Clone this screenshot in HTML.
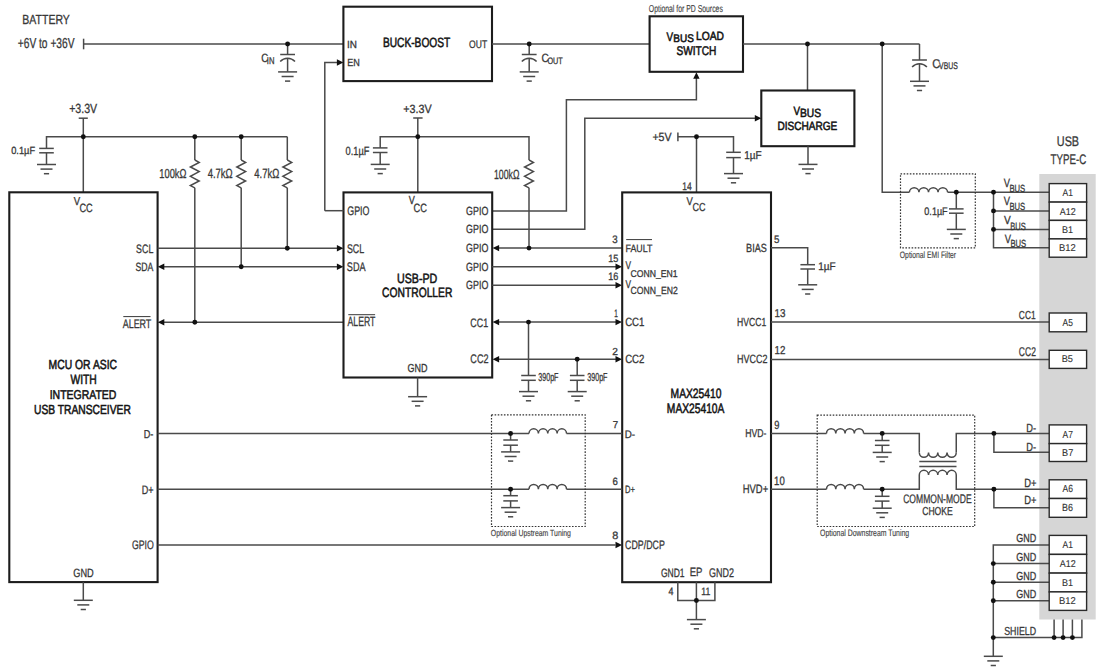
<!DOCTYPE html>
<html><head><meta charset="utf-8"><style>
html,body{margin:0;padding:0;background:#fff;width:1100px;height:672px;overflow:hidden}
svg{display:block;font-family:"Liberation Sans",sans-serif;text-rendering:geometricPrecision}
</style></head><body>
<svg width="1100" height="672" viewBox="0 0 1100 672">
<rect width="1100" height="672" fill="#fff"/>
<rect x="1039.3" y="174" width="56.4" height="445.5" fill="#d6d6d6"/>
<text transform="translate(22.3,24.14) scale(0.7972,1)" font-size="13.19" stroke="#383838" stroke-width="0.3" fill="#383838">BATTERY</text>
<text transform="translate(17.73,48.38) scale(0.7090,1)" font-size="14.41" stroke="#383838" stroke-width="0.3" fill="#383838">+6V to +36V</text>
<polyline points="83.6,38.7 83.6,49.3" fill="none" stroke="#4a4a4a" stroke-width="1.5"/>
<polyline points="83.6,44 343.4,44" fill="none" stroke="#4a4a4a" stroke-width="1.5"/>
<polyline points="287.6,44 287.6,54.5" fill="none" stroke="#4a4a4a" stroke-width="1.5"/>
<polyline points="280.2,54.5 295,54.5" fill="none" stroke="#4a4a4a" stroke-width="1.5"/>
<path d="M280.2,61.6 A10,10 0 0 1 295,61.6" fill="none" stroke="#4a4a4a" stroke-width="1.5"/>
<polyline points="287.6,58.3 287.6,71.8" fill="none" stroke="#4a4a4a" stroke-width="1.5"/>
<polyline points="278.1,71.9 297.1,71.9" fill="none" stroke="#4a4a4a" stroke-width="1.5"/>
<polyline points="281.6,76.5 293.6,76.5" fill="none" stroke="#4a4a4a" stroke-width="1.5"/>
<polyline points="285,81.1 290.2,81.1" fill="none" stroke="#4a4a4a" stroke-width="1.5"/>
<text transform="translate(261.13,62.38) scale(0.8105,1)" font-size="11.91" stroke="#383838" stroke-width="0.3" fill="#383838">C</text>
<text transform="translate(266.87,64.08) scale(0.7739,1)" font-size="9.89" stroke="#383838" stroke-width="0.3" fill="#383838">IN</text>
<rect x="343.4" y="6.7" width="148.6" height="74.4" fill="none" stroke="#1c1c1c" stroke-width="2.1"/>
<text transform="translate(347.06,47.85) scale(0.9534,1)" font-size="10.43" stroke="#383838" stroke-width="0.3" fill="#383838">IN</text>
<text transform="translate(347.21,65.7) scale(0.8752,1)" font-size="10.36" stroke="#383838" stroke-width="0.3" fill="#383838">EN</text>
<text transform="translate(382.91,47.49) scale(0.7605,1)" font-size="13.40" stroke="#141414" stroke-width="0.55" fill="#141414">BUCK-BOOST</text>
<text transform="translate(469.11,47.99) scale(0.7838,1)" font-size="10.92" stroke="#383838" stroke-width="0.3" fill="#383838">OUT</text>
<polyline points="492,44 649.6,44" fill="none" stroke="#4a4a4a" stroke-width="1.5"/>
<polyline points="529.2,44 529.2,54.5" fill="none" stroke="#4a4a4a" stroke-width="1.5"/>
<polyline points="521.8,54.5 536.6,54.5" fill="none" stroke="#4a4a4a" stroke-width="1.5"/>
<path d="M521.8,61.6 A10,10 0 0 1 536.6,61.6" fill="none" stroke="#4a4a4a" stroke-width="1.5"/>
<polyline points="529.2,58.3 529.2,71.8" fill="none" stroke="#4a4a4a" stroke-width="1.5"/>
<polyline points="519.7,71.9 538.7,71.9" fill="none" stroke="#4a4a4a" stroke-width="1.5"/>
<polyline points="523.2,76.5 535.2,76.5" fill="none" stroke="#4a4a4a" stroke-width="1.5"/>
<polyline points="526.6,81.1 531.8,81.1" fill="none" stroke="#4a4a4a" stroke-width="1.5"/>
<text transform="translate(541.54,62.41) scale(0.8488,1)" font-size="11.93" stroke="#383838" stroke-width="0.3" fill="#383838">C</text>
<text transform="translate(547.46,64.32) scale(0.7772,1)" font-size="9.35" stroke="#383838" stroke-width="0.3" fill="#383838">OUT</text>
<rect x="649.6" y="16.3" width="93.4" height="55.5" fill="none" stroke="#1c1c1c" stroke-width="2.1"/>
<text transform="translate(648.83,11.75) scale(0.6851,1)" font-size="10.03" stroke="#444" stroke-width="0.15" fill="#444">Optional for PD Sources</text>
<text transform="translate(666.61,40.84) scale(0.8018,1)" font-size="12.29" stroke="#141414" stroke-width="0.55" fill="#141414">V</text>
<text transform="translate(673.24,42.25) scale(0.9057,1)" font-size="11.06" stroke="#141414" stroke-width="0.55" fill="#141414">BUS</text>
<text transform="translate(696,40.02) scale(0.8666,1)" font-size="11.88" stroke="#141414" stroke-width="0.55" fill="#141414">LOAD</text>
<text transform="translate(676.45,55.02) scale(0.8039,1)" font-size="12.61" stroke="#141414" stroke-width="0.55" fill="#141414">SWITCH</text>
<polyline points="743,44 919.5,44" fill="none" stroke="#4a4a4a" stroke-width="1.5"/>
<polyline points="919.5,44 919.5,60" fill="none" stroke="#4a4a4a" stroke-width="1.5"/>
<polyline points="912.1,60 926.9,60" fill="none" stroke="#4a4a4a" stroke-width="1.5"/>
<path d="M912.1,67.1 A10,10 0 0 1 926.9,67.1" fill="none" stroke="#4a4a4a" stroke-width="1.5"/>
<polyline points="919.5,63.8 919.5,81.3" fill="none" stroke="#4a4a4a" stroke-width="1.5"/>
<polyline points="910,81.3 929,81.3" fill="none" stroke="#4a4a4a" stroke-width="1.5"/>
<polyline points="913.5,85.9 925.5,85.9" fill="none" stroke="#4a4a4a" stroke-width="1.5"/>
<polyline points="916.9,90.5 922.1,90.5" fill="none" stroke="#4a4a4a" stroke-width="1.5"/>
<text transform="translate(932.28,67.56) scale(0.8751,1)" font-size="12.72" stroke="#383838" stroke-width="0.3" fill="#383838">C</text>
<text transform="translate(939.1,68.95) scale(0.7100,1)" font-size="9.69" stroke="#383838" stroke-width="0.3" fill="#383838">VBUS</text>
<polyline points="807.5,44 807.5,90.5" fill="none" stroke="#4a4a4a" stroke-width="1.5"/>
<rect x="761.3" y="90.5" width="93.1" height="55.7" fill="none" stroke="#1c1c1c" stroke-width="2.1"/>
<text transform="translate(793.58,114.75) scale(0.8243,1)" font-size="11.96" stroke="#141414" stroke-width="0.55" fill="#141414">V</text>
<text transform="translate(799.92,117.15) scale(0.8613,1)" font-size="11.93" stroke="#141414" stroke-width="0.55" fill="#141414">BUS</text>
<text transform="translate(777.41,129.54) scale(0.8418,1)" font-size="11.96" stroke="#141414" stroke-width="0.55" fill="#141414">DISCHARGE</text>
<polyline points="808,146.2 808,164.4" fill="none" stroke="#4a4a4a" stroke-width="1.5"/>
<polyline points="798.5,164.4 817.5,164.4" fill="none" stroke="#4a4a4a" stroke-width="1.5"/>
<polyline points="802,169 814,169" fill="none" stroke="#4a4a4a" stroke-width="1.5"/>
<polyline points="805.4,173.6 810.6,173.6" fill="none" stroke="#4a4a4a" stroke-width="1.5"/>
<polyline points="492.2,210.9 566.4,210.9 566.4,99.7 696.4,99.7 696.4,78" fill="none" stroke="#4a4a4a" stroke-width="1.5"/>
<polygon points="696.4 72.3 693.2 78.8 699.6 78.8" fill="#111"/>
<polyline points="492.2,229.3 584.8,229.3 584.8,118.3 755.5,118.3" fill="none" stroke="#4a4a4a" stroke-width="1.5"/>
<polygon points="761.3 118.3 754.8 115.1 754.8 121.5" fill="#111"/>
<text transform="translate(652.42,141.11) scale(0.8923,1)" font-size="11.90" stroke="#383838" stroke-width="0.3" fill="#383838">+5V</text>
<polyline points="677.9,132.5 677.9,141.2" fill="none" stroke="#4a4a4a" stroke-width="1.5"/>
<polyline points="677.9,136.8 733.5,136.8 733.5,152.3" fill="none" stroke="#4a4a4a" stroke-width="1.5"/>
<polyline points="726.2,152.3 740.8,152.3" fill="none" stroke="#4a4a4a" stroke-width="1.5"/>
<polyline points="726.2,157.6 740.8,157.6" fill="none" stroke="#4a4a4a" stroke-width="1.5"/>
<polyline points="733.5,157.6 733.5,173.6" fill="none" stroke="#4a4a4a" stroke-width="1.5"/>
<polyline points="724,173.6 743,173.6" fill="none" stroke="#4a4a4a" stroke-width="1.5"/>
<polyline points="727.5,178.2 739.5,178.2" fill="none" stroke="#4a4a4a" stroke-width="1.5"/>
<polyline points="730.9,182.8 736.1,182.8" fill="none" stroke="#4a4a4a" stroke-width="1.5"/>
<polyline points="696.5,136.8 696.5,192.4" fill="none" stroke="#4a4a4a" stroke-width="1.5"/>
<text transform="translate(744.24,159.01) scale(0.8872,1)" font-size="11.25" stroke="#383838" stroke-width="0.3" fill="#383838">1µF</text>
<polyline points="882.2,44 882.2,192.2 909.4,192.2" fill="none" stroke="#4a4a4a" stroke-width="1.5"/>
<path d="M909.4,192.2 a4.78,4.7 0 0 1 9.55,0 a4.78,4.7 0 0 1 9.55,0 a4.78,4.7 0 0 1 9.55,0 a4.78,4.7 0 0 1 9.55,0" fill="none" stroke="#4a4a4a" stroke-width="1.5"/>
<polyline points="947.6,192.2 1049.2,192.2" fill="none" stroke="#4a4a4a" stroke-width="1.5"/>
<polyline points="956.3,192.2 956.3,208.9" fill="none" stroke="#4a4a4a" stroke-width="1.5"/>
<polyline points="949,208.9 963.6,208.9" fill="none" stroke="#4a4a4a" stroke-width="1.5"/>
<polyline points="949,213.2 963.6,213.2" fill="none" stroke="#4a4a4a" stroke-width="1.5"/>
<polyline points="956.3,213.2 956.3,229.4" fill="none" stroke="#4a4a4a" stroke-width="1.5"/>
<polyline points="946.8,229.4 965.8,229.4" fill="none" stroke="#4a4a4a" stroke-width="1.5"/>
<polyline points="950.3,234 962.3,234" fill="none" stroke="#4a4a4a" stroke-width="1.5"/>
<polyline points="953.7,238.6 958.9,238.6" fill="none" stroke="#4a4a4a" stroke-width="1.5"/>
<rect x="900.5" y="173.9" width="74.8" height="73.9" fill="none" stroke="#333" stroke-width="1.2" stroke-dasharray="1.6 1.5"/>
<text transform="translate(924.35,215.48) scale(0.8228,1)" font-size="10.98" stroke="#383838" stroke-width="0.3" fill="#383838">0.1µF</text>
<text transform="translate(899.83,258.01) scale(0.7243,1)" font-size="9.40" stroke="#444" stroke-width="0.15" fill="#444">Optional EMI Filter</text>
<polyline points="993.5,192.2 993.5,247.8 1049.2,247.8" fill="none" stroke="#4a4a4a" stroke-width="1.5"/>
<polyline points="993.5,210.9 1049.2,210.9" fill="none" stroke="#4a4a4a" stroke-width="1.5"/>
<polyline points="993.5,229.4 1049.2,229.4" fill="none" stroke="#4a4a4a" stroke-width="1.5"/>
<text transform="translate(1003.76,186.61) scale(0.7817,1)" font-size="12.06" stroke="#383838" stroke-width="0.3" fill="#383838">V</text>
<text transform="translate(1009.38,192.16) scale(0.7370,1)" font-size="10.39" stroke="#383838" stroke-width="0.3" fill="#383838">BUS</text>
<text transform="translate(1003.76,205.47) scale(0.7817,1)" font-size="12.06" stroke="#383838" stroke-width="0.3" fill="#383838">V</text>
<text transform="translate(1009.38,210.22) scale(0.7370,1)" font-size="10.39" stroke="#383838" stroke-width="0.3" fill="#383838">BUS</text>
<text transform="translate(1003.96,223.6) scale(0.8654,1)" font-size="11.73" stroke="#383838" stroke-width="0.3" fill="#383838">V</text>
<text transform="translate(1010.24,229.51) scale(0.7147,1)" font-size="10.53" stroke="#383838" stroke-width="0.3" fill="#383838">BUS</text>
<text transform="translate(1004.76,242.69) scale(0.7817,1)" font-size="12.06" stroke="#383838" stroke-width="0.3" fill="#383838">V</text>
<text transform="translate(1010.38,247.44) scale(0.7370,1)" font-size="10.39" stroke="#383838" stroke-width="0.3" fill="#383838">BUS</text>
<text transform="translate(1056.81,145.66) scale(0.7858,1)" font-size="13.79" stroke="#383838" stroke-width="0.3" fill="#383838">USB</text>
<text transform="translate(1050.62,163.77) scale(0.7049,1)" font-size="13.84" stroke="#383838" stroke-width="0.3" fill="#383838">TYPE-C</text>
<text transform="translate(69.18,113.19) scale(0.7995,1)" font-size="13.27" stroke="#383838" stroke-width="0.3" fill="#383838">+3.3V</text>
<polyline points="78.7,118.2 87.8,118.2" fill="none" stroke="#4a4a4a" stroke-width="1.5"/>
<polyline points="83.3,118.2 83.3,192.3" fill="none" stroke="#4a4a4a" stroke-width="1.5"/>
<polyline points="46.5,148.4 46.5,136.7 287.3,136.7" fill="none" stroke="#4a4a4a" stroke-width="1.5"/>
<polyline points="39.2,148.4 53.8,148.4" fill="none" stroke="#4a4a4a" stroke-width="1.5"/>
<polyline points="39.2,152.8 53.8,152.8" fill="none" stroke="#4a4a4a" stroke-width="1.5"/>
<polyline points="46.5,152.8 46.5,164.5" fill="none" stroke="#4a4a4a" stroke-width="1.5"/>
<polyline points="37,164.5 56,164.5" fill="none" stroke="#4a4a4a" stroke-width="1.5"/>
<polyline points="40.5,169.1 52.5,169.1" fill="none" stroke="#4a4a4a" stroke-width="1.5"/>
<polyline points="43.9,173.7 49.1,173.7" fill="none" stroke="#4a4a4a" stroke-width="1.5"/>
<text transform="translate(11.18,154.23) scale(0.8963,1)" font-size="10.38" stroke="#383838" stroke-width="0.3" fill="#383838">0.1µF</text>
<polyline points="194.8,136.7 194.8,160" fill="none" stroke="#4a4a4a" stroke-width="1.5"/>
<polyline points="194.8,159.99 199.2,162.4 190.4,167 199.2,171.6 190.4,176.3 199.2,181 190.4,185.6 194.8,187.8" fill="none" stroke="#4a4a4a" stroke-width="1.5"/>
<polyline points="194.8,187.8 194.8,322.3" fill="none" stroke="#4a4a4a" stroke-width="1.5"/>
<polyline points="241.2,136.7 241.2,160" fill="none" stroke="#4a4a4a" stroke-width="1.5"/>
<polyline points="241.2,159.99 245.6,162.4 236.8,167 245.6,171.6 236.8,176.3 245.6,181 236.8,185.6 241.2,187.8" fill="none" stroke="#4a4a4a" stroke-width="1.5"/>
<polyline points="241.2,187.8 241.2,266.7" fill="none" stroke="#4a4a4a" stroke-width="1.5"/>
<polyline points="287.3,136.7 287.3,160" fill="none" stroke="#4a4a4a" stroke-width="1.5"/>
<polyline points="287.3,159.99 291.7,162.4 282.9,167 291.7,171.6 282.9,176.3 291.7,181 282.9,185.6 287.3,187.8" fill="none" stroke="#4a4a4a" stroke-width="1.5"/>
<polyline points="287.3,187.8 287.3,248.3" fill="none" stroke="#4a4a4a" stroke-width="1.5"/>
<text transform="translate(159.34,177.99) scale(0.7154,1)" font-size="13.00" stroke="#383838" stroke-width="0.3" fill="#383838">100kΩ</text>
<text transform="translate(207.64,177.72) scale(0.7116,1)" font-size="13.37" stroke="#383838" stroke-width="0.3" fill="#383838">4.7kΩ</text>
<text transform="translate(254.31,177.72) scale(0.7090,1)" font-size="13.32" stroke="#383838" stroke-width="0.3" fill="#383838">4.7kΩ</text>
<rect x="9.3" y="192.3" width="148.3" height="389.8" fill="none" stroke="#1c1c1c" stroke-width="2.1"/>
<text transform="translate(73.84,204.77) scale(0.8289,1)" font-size="11.54" stroke="#383838" stroke-width="0.3" fill="#383838">V</text>
<text transform="translate(79.49,211.72) scale(0.7602,1)" font-size="12.09" stroke="#383838" stroke-width="0.3" fill="#383838">CC</text>
<polyline points="157.6,248.3 337,248.3" fill="none" stroke="#4a4a4a" stroke-width="1.5"/>
<polygon points="343.4 248.3 336.9 245.1 336.9 251.5" fill="#111"/>
<polyline points="164,266.7 337,266.7" fill="none" stroke="#4a4a4a" stroke-width="1.5"/>
<polygon points="157.8 266.7 164.3 263.5 164.3 269.9" fill="#111"/>
<polygon points="343.4 266.7 336.9 263.5 336.9 269.9" fill="#111"/>
<polyline points="164,322.3 343.4,322.3" fill="none" stroke="#4a4a4a" stroke-width="1.5"/>
<polygon points="157.8 322.3 164.3 319.1 164.3 325.5" fill="#111"/>
<text transform="translate(136.12,252.64) scale(0.7232,1)" font-size="12.21" stroke="#383838" stroke-width="0.3" fill="#383838">SCL</text>
<text transform="translate(135.41,270.98) scale(0.7208,1)" font-size="12.07" stroke="#383838" stroke-width="0.3" fill="#383838">SDA</text>
<text transform="translate(122.73,327.72) scale(0.7176,1)" font-size="12.43" stroke="#383838" stroke-width="0.3" fill="#383838">ALERT</text>
<polyline points="123.3,316.6 150.5,316.6" fill="none" stroke="#383838" stroke-width="1.0"/>
<polyline points="83.3,582.1 83.3,600.3" fill="none" stroke="#4a4a4a" stroke-width="1.5"/>
<polyline points="73.8,600.3 92.8,600.3" fill="none" stroke="#4a4a4a" stroke-width="1.5"/>
<polyline points="77.3,604.9 89.3,604.9" fill="none" stroke="#4a4a4a" stroke-width="1.5"/>
<polyline points="80.7,609.5 85.9,609.5" fill="none" stroke="#4a4a4a" stroke-width="1.5"/>
<text transform="translate(73.25,576.89) scale(0.7748,1)" font-size="11.91" stroke="#383838" stroke-width="0.3" fill="#383838">GND</text>
<text transform="translate(48.59,369.42) scale(0.7844,1)" font-size="13.21" stroke="#141414" stroke-width="0.55" fill="#141414">MCU OR ASIC</text>
<text transform="translate(70.46,384.26) scale(0.7714,1)" font-size="13.38" stroke="#141414" stroke-width="0.55" fill="#141414">WITH</text>
<text transform="translate(49.66,398.65) scale(0.8158,1)" font-size="12.84" stroke="#141414" stroke-width="0.55" fill="#141414">INTEGRATED</text>
<text transform="translate(34,413.64) scale(0.7778,1)" font-size="13.21" stroke="#141414" stroke-width="0.55" fill="#141414">USB TRANSCEIVER</text>
<text transform="translate(143.73,437.59) scale(0.7913,1)" font-size="11.52" stroke="#383838" stroke-width="0.3" fill="#383838">D-</text>
<text transform="translate(141.66,493.84) scale(0.7491,1)" font-size="12.14" stroke="#383838" stroke-width="0.3" fill="#383838">D+</text>
<text transform="translate(131.9,548.71) scale(0.7114,1)" font-size="12.30" stroke="#383838" stroke-width="0.3" fill="#383838">GPIO</text>
<text transform="translate(403.21,112.55) scale(0.8981,1)" font-size="11.97" stroke="#383838" stroke-width="0.3" fill="#383838">+3.3V</text>
<polyline points="413.2,118 422.6,118" fill="none" stroke="#4a4a4a" stroke-width="1.5"/>
<polyline points="417.8,118 417.8,192.4" fill="none" stroke="#4a4a4a" stroke-width="1.5"/>
<polyline points="380.2,147.9 380.2,136.8 529,136.8 529,160" fill="none" stroke="#4a4a4a" stroke-width="1.5"/>
<polyline points="372.9,147.9 387.5,147.9" fill="none" stroke="#4a4a4a" stroke-width="1.5"/>
<polyline points="372.9,152.5 387.5,152.5" fill="none" stroke="#4a4a4a" stroke-width="1.5"/>
<polyline points="380.2,152.5 380.2,164.4" fill="none" stroke="#4a4a4a" stroke-width="1.5"/>
<polyline points="370.7,164.4 389.7,164.4" fill="none" stroke="#4a4a4a" stroke-width="1.5"/>
<polyline points="374.2,169 386.2,169" fill="none" stroke="#4a4a4a" stroke-width="1.5"/>
<polyline points="377.6,173.6 382.8,173.6" fill="none" stroke="#4a4a4a" stroke-width="1.5"/>
<text transform="translate(345.47,154.81) scale(0.7767,1)" font-size="11.96" stroke="#383838" stroke-width="0.3" fill="#383838">0.1µF</text>
<polyline points="529,159.99 533.4,162.4 524.6,167 533.4,171.6 524.6,176.3 533.4,181 524.6,185.6 529,187.8" fill="none" stroke="#4a4a4a" stroke-width="1.5"/>
<polyline points="529,187.8 529,248.1" fill="none" stroke="#4a4a4a" stroke-width="1.5"/>
<text transform="translate(494.02,178.7) scale(0.6529,1)" font-size="13.35" stroke="#383838" stroke-width="0.3" fill="#383838">100kΩ</text>
<rect x="343.5" y="192.4" width="148.7" height="185.1" fill="none" stroke="#1c1c1c" stroke-width="2.1"/>
<text transform="translate(408.69,204.47) scale(0.7752,1)" font-size="11.75" stroke="#383838" stroke-width="0.3" fill="#383838">V</text>
<text transform="translate(413.44,211.76) scale(0.7669,1)" font-size="12.09" stroke="#383838" stroke-width="0.3" fill="#383838">CC</text>
<polyline points="324.8,210.7 343.5,210.7" fill="none" stroke="#4a4a4a" stroke-width="1.5"/>
<polyline points="324.8,210.7 324.8,62.5 337,62.5" fill="none" stroke="#4a4a4a" stroke-width="1.5"/>
<polygon points="343.4 62.5 336.9 59.3 336.9 65.7" fill="#111"/>
<text transform="translate(347.24,215) scale(0.7151,1)" font-size="12.41" stroke="#383838" stroke-width="0.3" fill="#383838">GPIO</text>
<text transform="translate(466.1,214.67) scale(0.7521,1)" font-size="11.81" stroke="#383838" stroke-width="0.3" fill="#383838">GPIO</text>
<text transform="translate(466.1,233.39) scale(0.7521,1)" font-size="11.81" stroke="#383838" stroke-width="0.3" fill="#383838">GPIO</text>
<text transform="translate(466.1,252.03) scale(0.7521,1)" font-size="11.81" stroke="#383838" stroke-width="0.3" fill="#383838">GPIO</text>
<text transform="translate(466.1,271.11) scale(0.7521,1)" font-size="11.81" stroke="#383838" stroke-width="0.3" fill="#383838">GPIO</text>
<text transform="translate(466.1,289.39) scale(0.7521,1)" font-size="11.81" stroke="#383838" stroke-width="0.3" fill="#383838">GPIO</text>
<text transform="translate(346.93,253.06) scale(0.7040,1)" font-size="12.62" stroke="#383838" stroke-width="0.3" fill="#383838">SCL</text>
<text transform="translate(346.86,271.42) scale(0.7297,1)" font-size="12.51" stroke="#383838" stroke-width="0.3" fill="#383838">SDA</text>
<text transform="translate(347.6,326.36) scale(0.6406,1)" font-size="13.51" stroke="#383838" stroke-width="0.3" fill="#383838">ALERT</text>
<polyline points="348.3,314.7 375.1,314.7" fill="none" stroke="#383838" stroke-width="1.0"/>
<text transform="translate(470.33,326.94) scale(0.7286,1)" font-size="12.25" stroke="#383838" stroke-width="0.3" fill="#383838">CC1</text>
<text transform="translate(470.34,363.49) scale(0.7298,1)" font-size="12.44" stroke="#383838" stroke-width="0.3" fill="#383838">CC2</text>
<text transform="translate(396.95,282.64) scale(0.7960,1)" font-size="13.41" stroke="#141414" stroke-width="0.55" fill="#141414">USB-PD</text>
<text transform="translate(382.1,297.37) scale(0.7640,1)" font-size="13.46" stroke="#141414" stroke-width="0.55" fill="#141414">CONTROLLER</text>
<text transform="translate(407.6,372.13) scale(0.7745,1)" font-size="11.61" stroke="#383838" stroke-width="0.3" fill="#383838">GND</text>
<polyline points="417.6,377.5 417.6,396.7" fill="none" stroke="#4a4a4a" stroke-width="1.5"/>
<polyline points="408.1,396.7 427.1,396.7" fill="none" stroke="#4a4a4a" stroke-width="1.5"/>
<polyline points="411.6,401.3 423.6,401.3" fill="none" stroke="#4a4a4a" stroke-width="1.5"/>
<polyline points="415,405.9 420.2,405.9" fill="none" stroke="#4a4a4a" stroke-width="1.5"/>
<polyline points="499,248.1 622.2,248.1" fill="none" stroke="#4a4a4a" stroke-width="1.5"/>
<polygon points="492.6 248.1 499.1 244.9 499.1 251.3" fill="#111"/>
<polyline points="492.2,266.7 616,266.7" fill="none" stroke="#4a4a4a" stroke-width="1.5"/>
<polygon points="622 266.7 615.5 263.5 615.5 269.9" fill="#111"/>
<polyline points="492.2,285.3 616,285.3" fill="none" stroke="#4a4a4a" stroke-width="1.5"/>
<polygon points="622 285.3 615.5 282.1 615.5 288.5" fill="#111"/>
<polyline points="498.8,322.1 616,322.1" fill="none" stroke="#4a4a4a" stroke-width="1.5"/>
<polygon points="492.6 322.1 499.1 318.9 499.1 325.3" fill="#111"/>
<polygon points="622 322.1 615.5 318.9 615.5 325.3" fill="#111"/>
<polyline points="498.8,359.3 616,359.3" fill="none" stroke="#4a4a4a" stroke-width="1.5"/>
<polygon points="492.6 359.3 499.1 356.1 499.1 362.5" fill="#111"/>
<polygon points="622 359.3 615.5 356.1 615.5 362.5" fill="#111"/>
<polyline points="528.5,322.1 528.5,375.5" fill="none" stroke="#4a4a4a" stroke-width="1.5"/>
<polyline points="521.2,375.5 535.8,375.5" fill="none" stroke="#4a4a4a" stroke-width="1.5"/>
<polyline points="521.2,380.3 535.8,380.3" fill="none" stroke="#4a4a4a" stroke-width="1.5"/>
<polyline points="528.5,380.3 528.5,391.6" fill="none" stroke="#4a4a4a" stroke-width="1.5"/>
<polyline points="519,391.6 538,391.6" fill="none" stroke="#4a4a4a" stroke-width="1.5"/>
<polyline points="522.5,396.2 534.5,396.2" fill="none" stroke="#4a4a4a" stroke-width="1.5"/>
<polyline points="525.9,400.8 531.1,400.8" fill="none" stroke="#4a4a4a" stroke-width="1.5"/>
<polyline points="577.2,359.3 577.2,375.5" fill="none" stroke="#4a4a4a" stroke-width="1.5"/>
<polyline points="569.9,375.5 584.5,375.5" fill="none" stroke="#4a4a4a" stroke-width="1.5"/>
<polyline points="569.9,380.3 584.5,380.3" fill="none" stroke="#4a4a4a" stroke-width="1.5"/>
<polyline points="577.2,380.3 577.2,391.6" fill="none" stroke="#4a4a4a" stroke-width="1.5"/>
<polyline points="567.7,391.6 586.7,391.6" fill="none" stroke="#4a4a4a" stroke-width="1.5"/>
<polyline points="571.2,396.2 583.2,396.2" fill="none" stroke="#4a4a4a" stroke-width="1.5"/>
<polyline points="574.6,400.8 579.8,400.8" fill="none" stroke="#4a4a4a" stroke-width="1.5"/>
<text transform="translate(538.2,381.25) scale(0.6226,1)" font-size="11.49" stroke="#383838" stroke-width="0.3" fill="#383838">390pF</text>
<text transform="translate(587.2,381.25) scale(0.6226,1)" font-size="11.49" stroke="#383838" stroke-width="0.3" fill="#383838">390pF</text>
<rect x="622.2" y="192.4" width="148.8" height="389.8" fill="none" stroke="#1c1c1c" stroke-width="2.1"/>
<text transform="translate(682.29,190.04) scale(0.7641,1)" font-size="11.10" stroke="#383838" stroke-width="0.3" fill="#383838">14</text>
<text transform="translate(686.6,204.73) scale(0.8415,1)" font-size="11.21" stroke="#383838" stroke-width="0.3" fill="#383838">V</text>
<text transform="translate(692.47,210.97) scale(0.7783,1)" font-size="11.59" stroke="#383838" stroke-width="0.3" fill="#383838">CC</text>
<text transform="translate(612.14,242.56) scale(0.8961,1)" font-size="10.83" stroke="#383838" stroke-width="0.3" fill="#383838">3</text>
<text transform="translate(625.52,252.13) scale(0.8333,1)" font-size="10.58" stroke="#383838" stroke-width="0.3" fill="#383838">FAULT</text>
<polyline points="626.2,239.6 652,239.6" fill="none" stroke="#383838" stroke-width="1.0"/>
<text transform="translate(608.17,261.68) scale(0.8572,1)" font-size="10.62" stroke="#383838" stroke-width="0.3" fill="#383838">15</text>
<text transform="translate(625.55,269.22) scale(0.7451,1)" font-size="11.12" stroke="#383838" stroke-width="0.3" fill="#383838">V</text>
<text transform="translate(630.61,276.68) scale(0.8773,1)" font-size="9.86" stroke="#383838" stroke-width="0.3" fill="#383838">CONN_EN1</text>
<text transform="translate(608.18,279.98) scale(0.8392,1)" font-size="10.82" stroke="#383838" stroke-width="0.3" fill="#383838">16</text>
<text transform="translate(625.55,288.3) scale(0.7451,1)" font-size="11.12" stroke="#383838" stroke-width="0.3" fill="#383838">V</text>
<text transform="translate(630.61,293.59) scale(0.8334,1)" font-size="10.40" stroke="#383838" stroke-width="0.3" fill="#383838">CONN_EN2</text>
<text transform="translate(614.31,317.04) scale(0.5966,1)" font-size="10.78" stroke="#383838" stroke-width="0.3" fill="#383838">1</text>
<text transform="translate(625.14,325.89) scale(0.8057,1)" font-size="11.98" stroke="#383838" stroke-width="0.3" fill="#383838">CC1</text>
<text transform="translate(612.34,354.55) scale(1.0002,1)" font-size="10.21" stroke="#383838" stroke-width="0.3" fill="#383838">2</text>
<text transform="translate(625.14,363.25) scale(0.8080,1)" font-size="11.97" stroke="#383838" stroke-width="0.3" fill="#383838">CC2</text>
<text transform="translate(670.57,398.4) scale(0.7580,1)" font-size="13.58" stroke="#141414" stroke-width="0.55" fill="#141414">MAX25410</text>
<text transform="translate(666.84,413.42) scale(0.7534,1)" font-size="13.61" stroke="#141414" stroke-width="0.55" fill="#141414">MAX25410A</text>
<text transform="translate(612.68,427.71) scale(0.9800,1)" font-size="9.83" stroke="#383838" stroke-width="0.3" fill="#383838">7</text>
<text transform="translate(624.74,437.75) scale(0.9094,1)" font-size="10.84" stroke="#383838" stroke-width="0.3" fill="#383838">D-</text>
<text transform="translate(612.61,484.61) scale(0.9075,1)" font-size="10.59" stroke="#383838" stroke-width="0.3" fill="#383838">6</text>
<text transform="translate(625.07,493.38) scale(0.7211,1)" font-size="10.57" stroke="#383838" stroke-width="0.3" fill="#383838">D+</text>
<text transform="translate(612.2,539.19) scale(1.0134,1)" font-size="10.67" stroke="#383838" stroke-width="0.3" fill="#383838">8</text>
<text transform="translate(625.12,549.37) scale(0.7187,1)" font-size="12.27" stroke="#383838" stroke-width="0.3" fill="#383838">CDP/DCP</text>
<text transform="translate(660.88,576.82) scale(0.7083,1)" font-size="12.03" stroke="#383838" stroke-width="0.3" fill="#383838">GND1</text>
<text transform="translate(689.63,576.22) scale(0.7957,1)" font-size="11.98" stroke="#383838" stroke-width="0.3" fill="#383838">EP</text>
<text transform="translate(709.11,576.96) scale(0.7138,1)" font-size="12.58" stroke="#383838" stroke-width="0.3" fill="#383838">GND2</text>
<polyline points="677.8,582.2 677.8,600.5 714.9,600.5 714.9,582.2" fill="none" stroke="#4a4a4a" stroke-width="1.5"/>
<polyline points="696.4,582.2 696.4,619.6" fill="none" stroke="#4a4a4a" stroke-width="1.5"/>
<polyline points="686.9,619.6 705.9,619.6" fill="none" stroke="#4a4a4a" stroke-width="1.5"/>
<polyline points="690.4,624.2 702.4,624.2" fill="none" stroke="#4a4a4a" stroke-width="1.5"/>
<polyline points="693.8,628.8 699,628.8" fill="none" stroke="#4a4a4a" stroke-width="1.5"/>
<text transform="translate(668.4,595.28) scale(0.8284,1)" font-size="10.74" stroke="#383838" stroke-width="0.3" fill="#383838">4</text>
<text transform="translate(701.23,595.42) scale(0.8134,1)" font-size="10.64" stroke="#383838" stroke-width="0.3" fill="#383838">11</text>
<polyline points="157.6,545 615.5,545" fill="none" stroke="#4a4a4a" stroke-width="1.5"/>
<polygon points="622 545 615.5 541.8 615.5 548.2" fill="#111"/>
<text transform="translate(746.08,251.85) scale(0.7684,1)" font-size="11.84" stroke="#383838" stroke-width="0.3" fill="#383838">BIAS</text>
<text transform="translate(774.11,242.96) scale(0.9019,1)" font-size="10.80" stroke="#383838" stroke-width="0.3" fill="#383838">5</text>
<polyline points="771,247.8 807.7,247.8 807.7,264.7" fill="none" stroke="#4a4a4a" stroke-width="1.5"/>
<polyline points="800.4,264.7 815,264.7" fill="none" stroke="#4a4a4a" stroke-width="1.5"/>
<polyline points="800.4,269 815,269" fill="none" stroke="#4a4a4a" stroke-width="1.5"/>
<polyline points="807.7,269 807.7,284.8" fill="none" stroke="#4a4a4a" stroke-width="1.5"/>
<polyline points="798.2,284.8 817.2,284.8" fill="none" stroke="#4a4a4a" stroke-width="1.5"/>
<polyline points="801.7,289.4 813.7,289.4" fill="none" stroke="#4a4a4a" stroke-width="1.5"/>
<polyline points="805.1,294 810.3,294" fill="none" stroke="#4a4a4a" stroke-width="1.5"/>
<text transform="translate(818.21,270.27) scale(0.9038,1)" font-size="11.09" stroke="#383838" stroke-width="0.3" fill="#383838">1µF</text>
<text transform="translate(737.11,326.39) scale(0.7357,1)" font-size="11.70" stroke="#383838" stroke-width="0.3" fill="#383838">HVCC1</text>
<text transform="translate(774.5,317.12) scale(0.8626,1)" font-size="11.41" stroke="#383838" stroke-width="0.3" fill="#383838">13</text>
<text transform="translate(737.12,362.87) scale(0.7553,1)" font-size="11.90" stroke="#383838" stroke-width="0.3" fill="#383838">HVCC2</text>
<text transform="translate(774.5,354.33) scale(0.8497,1)" font-size="11.50" stroke="#383838" stroke-width="0.3" fill="#383838">12</text>
<polyline points="771,322.1 1049.2,322.1" fill="none" stroke="#4a4a4a" stroke-width="1.5"/>
<polyline points="771,359.5 1049.2,359.5" fill="none" stroke="#4a4a4a" stroke-width="1.5"/>
<text transform="translate(1018.86,319.3) scale(0.7196,1)" font-size="11.63" stroke="#383838" stroke-width="0.3" fill="#383838">CC1</text>
<text transform="translate(1018.85,355.99) scale(0.6720,1)" font-size="12.69" stroke="#383838" stroke-width="0.3" fill="#383838">CC2</text>
<text transform="translate(745.23,437.41) scale(0.7672,1)" font-size="11.29" stroke="#383838" stroke-width="0.3" fill="#383838">HVD-</text>
<text transform="translate(774.28,428.55) scale(0.7870,1)" font-size="11.90" stroke="#383838" stroke-width="0.3" fill="#383838">9</text>
<text transform="translate(742.73,493.24) scale(0.7866,1)" font-size="12.03" stroke="#383838" stroke-width="0.3" fill="#383838">HVD+</text>
<text transform="translate(774.07,484.66) scale(0.7827,1)" font-size="12.24" stroke="#383838" stroke-width="0.3" fill="#383838">10</text>
<polyline points="157.6,433.5 529,433.5" fill="none" stroke="#4a4a4a" stroke-width="1.5"/>
<path d="M529,433.5 a4.69,4.7 0 0 1 9.38,0 a4.69,4.7 0 0 1 9.38,0 a4.69,4.7 0 0 1 9.38,0 a4.69,4.7 0 0 1 9.38,0" fill="none" stroke="#4a4a4a" stroke-width="1.5"/>
<polyline points="566.5,433.5 622.2,433.5" fill="none" stroke="#4a4a4a" stroke-width="1.5"/>
<polyline points="510.6,433.5 510.6,440" fill="none" stroke="#4a4a4a" stroke-width="1.5"/>
<polyline points="503.3,440 517.9,440" fill="none" stroke="#4a4a4a" stroke-width="1.5"/>
<polyline points="503.3,445.2 517.9,445.2" fill="none" stroke="#4a4a4a" stroke-width="1.5"/>
<polyline points="510.6,445.2 510.6,451.9" fill="none" stroke="#4a4a4a" stroke-width="1.5"/>
<polyline points="501.1,451.9 520.1,451.9" fill="none" stroke="#4a4a4a" stroke-width="1.5"/>
<polyline points="504.6,456.5 516.6,456.5" fill="none" stroke="#4a4a4a" stroke-width="1.5"/>
<polyline points="508,461.1 513.2,461.1" fill="none" stroke="#4a4a4a" stroke-width="1.5"/>
<polyline points="157.6,489.2 529,489.2" fill="none" stroke="#4a4a4a" stroke-width="1.5"/>
<path d="M529,489.2 a4.69,4.7 0 0 1 9.38,0 a4.69,4.7 0 0 1 9.38,0 a4.69,4.7 0 0 1 9.38,0 a4.69,4.7 0 0 1 9.38,0" fill="none" stroke="#4a4a4a" stroke-width="1.5"/>
<polyline points="566.5,489.2 622.2,489.2" fill="none" stroke="#4a4a4a" stroke-width="1.5"/>
<polyline points="510.6,489.2 510.6,495.7" fill="none" stroke="#4a4a4a" stroke-width="1.5"/>
<polyline points="503.3,495.7 517.9,495.7" fill="none" stroke="#4a4a4a" stroke-width="1.5"/>
<polyline points="503.3,500.9 517.9,500.9" fill="none" stroke="#4a4a4a" stroke-width="1.5"/>
<polyline points="510.6,500.9 510.6,507.6" fill="none" stroke="#4a4a4a" stroke-width="1.5"/>
<polyline points="501.1,507.6 520.1,507.6" fill="none" stroke="#4a4a4a" stroke-width="1.5"/>
<polyline points="504.6,512.2 516.6,512.2" fill="none" stroke="#4a4a4a" stroke-width="1.5"/>
<polyline points="508,516.8 513.2,516.8" fill="none" stroke="#4a4a4a" stroke-width="1.5"/>
<rect x="491.5" y="414.8" width="93.7" height="111.7" fill="none" stroke="#333" stroke-width="1.2" stroke-dasharray="1.6 1.5"/>
<text transform="translate(490.84,536.09) scale(0.7780,1)" font-size="8.87" stroke="#444" stroke-width="0.15" fill="#444">Optional Upstream Tuning</text>
<polyline points="771,433.4 826.5,433.4" fill="none" stroke="#4a4a4a" stroke-width="1.5"/>
<path d="M826.5,433.4 a4.64,4.7 0 0 1 9.28,0 a4.64,4.7 0 0 1 9.28,0 a4.64,4.7 0 0 1 9.28,0 a4.64,4.7 0 0 1 9.28,0" fill="none" stroke="#4a4a4a" stroke-width="1.5"/>
<polyline points="882.2,433.4 882.2,440.5" fill="none" stroke="#4a4a4a" stroke-width="1.5"/>
<polyline points="874.9,440.5 889.5,440.5" fill="none" stroke="#4a4a4a" stroke-width="1.5"/>
<polyline points="874.9,445.3 889.5,445.3" fill="none" stroke="#4a4a4a" stroke-width="1.5"/>
<polyline points="882.2,445.3 882.2,452.4" fill="none" stroke="#4a4a4a" stroke-width="1.5"/>
<polyline points="872.7,452.4 891.7,452.4" fill="none" stroke="#4a4a4a" stroke-width="1.5"/>
<polyline points="876.2,457 888.2,457" fill="none" stroke="#4a4a4a" stroke-width="1.5"/>
<polyline points="879.6,461.6 884.8,461.6" fill="none" stroke="#4a4a4a" stroke-width="1.5"/>
<polyline points="771,489.2 826.5,489.2" fill="none" stroke="#4a4a4a" stroke-width="1.5"/>
<path d="M826.5,489.2 a4.64,4.7 0 0 1 9.28,0 a4.64,4.7 0 0 1 9.28,0 a4.64,4.7 0 0 1 9.28,0 a4.64,4.7 0 0 1 9.28,0" fill="none" stroke="#4a4a4a" stroke-width="1.5"/>
<polyline points="882.2,489.2 882.2,496.3" fill="none" stroke="#4a4a4a" stroke-width="1.5"/>
<polyline points="874.9,496.3 889.5,496.3" fill="none" stroke="#4a4a4a" stroke-width="1.5"/>
<polyline points="874.9,501.1 889.5,501.1" fill="none" stroke="#4a4a4a" stroke-width="1.5"/>
<polyline points="882.2,501.1 882.2,508.2" fill="none" stroke="#4a4a4a" stroke-width="1.5"/>
<polyline points="872.7,508.2 891.7,508.2" fill="none" stroke="#4a4a4a" stroke-width="1.5"/>
<polyline points="876.2,512.8 888.2,512.8" fill="none" stroke="#4a4a4a" stroke-width="1.5"/>
<polyline points="879.6,517.4 884.8,517.4" fill="none" stroke="#4a4a4a" stroke-width="1.5"/>
<polyline points="863.6,433.4 919.3,433.4 919.3,452.6" fill="none" stroke="#4a4a4a" stroke-width="1.5"/>
<path d="M919.3,452.6 a4.62,4.7 0 0 0 9.24,0 a4.62,4.7 0 0 0 9.24,0 a4.62,4.7 0 0 0 9.24,0 a4.62,4.7 0 0 0 9.24,0" fill="none" stroke="#4a4a4a" stroke-width="1.5"/>
<polyline points="956.25,452.6 956.25,433.4 1049.2,433.4" fill="none" stroke="#4a4a4a" stroke-width="1.5"/>
<polyline points="863.6,489.2 919.3,489.2 919.3,475" fill="none" stroke="#4a4a4a" stroke-width="1.5"/>
<path d="M919.3,475 a4.62,4.7 0 0 1 9.24,0 a4.62,4.7 0 0 1 9.24,0 a4.62,4.7 0 0 1 9.24,0 a4.62,4.7 0 0 1 9.24,0" fill="none" stroke="#4a4a4a" stroke-width="1.5"/>
<polyline points="956.25,475 956.25,489.2 1049.2,489.2" fill="none" stroke="#4a4a4a" stroke-width="1.5"/>
<polyline points="919.3,461.5 956.5,461.5" fill="none" stroke="#4a4a4a" stroke-width="1.5"/>
<polyline points="919.3,466.4 956.5,466.4" fill="none" stroke="#4a4a4a" stroke-width="1.5"/>
<rect x="817.2" y="415.2" width="157.5" height="111.3" fill="none" stroke="#333" stroke-width="1.2" stroke-dasharray="1.6 1.5"/>
<text transform="translate(903.16,503.02) scale(0.6938,1)" font-size="12.35" stroke="#383838" stroke-width="0.3" fill="#383838">COMMON-MODE</text>
<text transform="translate(922.18,514.73) scale(0.7420,1)" font-size="11.57" stroke="#383838" stroke-width="0.3" fill="#383838">CHOKE</text>
<text transform="translate(820.09,535.59) scale(0.7366,1)" font-size="9.39" stroke="#444" stroke-width="0.15" fill="#444">Optional Downstream Tuning</text>
<polyline points="993.9,433.4 993.9,452.3 1049.2,452.3" fill="none" stroke="#4a4a4a" stroke-width="1.5"/>
<polyline points="993.9,489.2 993.9,507.8 1049.2,507.8" fill="none" stroke="#4a4a4a" stroke-width="1.5"/>
<text transform="translate(1026.26,431.63) scale(0.7856,1)" font-size="11.82" stroke="#383838" stroke-width="0.3" fill="#383838">D-</text>
<text transform="translate(1026.26,450.63) scale(0.7856,1)" font-size="11.82" stroke="#383838" stroke-width="0.3" fill="#383838">D-</text>
<text transform="translate(1024.17,487.08) scale(0.7889,1)" font-size="11.90" stroke="#383838" stroke-width="0.3" fill="#383838">D+</text>
<text transform="translate(1024.17,504.44) scale(0.7889,1)" font-size="11.90" stroke="#383838" stroke-width="0.3" fill="#383838">D+</text>
<polyline points="1049.2,544.9 993.3,544.9 993.3,656.3" fill="none" stroke="#4a4a4a" stroke-width="1.5"/>
<polyline points="983.8,656.3 1002.8,656.3" fill="none" stroke="#4a4a4a" stroke-width="1.5"/>
<polyline points="987.3,660.9 999.3,660.9" fill="none" stroke="#4a4a4a" stroke-width="1.5"/>
<polyline points="990.7,665.5 995.9,665.5" fill="none" stroke="#4a4a4a" stroke-width="1.5"/>
<polyline points="993.3,563.6 1049.2,563.6" fill="none" stroke="#4a4a4a" stroke-width="1.5"/>
<polyline points="993.3,582.2 1049.2,582.2" fill="none" stroke="#4a4a4a" stroke-width="1.5"/>
<polyline points="993.3,600.7 1049.2,600.7" fill="none" stroke="#4a4a4a" stroke-width="1.5"/>
<text transform="translate(1016.15,542.38) scale(0.7687,1)" font-size="11.69" stroke="#383838" stroke-width="0.3" fill="#383838">GND</text>
<text transform="translate(1016.15,561.24) scale(0.7687,1)" font-size="11.69" stroke="#383838" stroke-width="0.3" fill="#383838">GND</text>
<text transform="translate(1016.15,579.52) scale(0.7687,1)" font-size="11.69" stroke="#383838" stroke-width="0.3" fill="#383838">GND</text>
<text transform="translate(1016.15,598.02) scale(0.7687,1)" font-size="11.69" stroke="#383838" stroke-width="0.3" fill="#383838">GND</text>
<polyline points="993.3,637.6 1081.9,637.6 1081.9,619.5" fill="none" stroke="#4a4a4a" stroke-width="1.5"/>
<polyline points="1054.1,619.5 1054.1,637.6" fill="none" stroke="#4a4a4a" stroke-width="1.5"/>
<polyline points="1063.1,619.5 1063.1,637.6" fill="none" stroke="#4a4a4a" stroke-width="1.5"/>
<polyline points="1072.4,619.5 1072.4,637.6" fill="none" stroke="#4a4a4a" stroke-width="1.5"/>
<text transform="translate(1004.18,634.75) scale(0.7584,1)" font-size="11.65" stroke="#383838" stroke-width="0.3" fill="#383838">SHIELD</text>
<rect x="1049.2" y="183.6" width="37.4" height="18.50" fill="#fff" stroke="#2a2a2a" stroke-width="1.4"/>
<text transform="translate(1062.53,196.14) scale(0.8591,1)" font-size="9.92" stroke="#333" stroke-width="0.12" fill="#333">A1</text>
<rect x="1049.2" y="202.1" width="37.4" height="18.30" fill="#fff" stroke="#2a2a2a" stroke-width="1.4"/>
<text transform="translate(1059.73,214.76) scale(0.9110,1)" font-size="9.86" stroke="#333" stroke-width="0.12" fill="#333">A12</text>
<rect x="1049.2" y="220.4" width="37.4" height="18.50" fill="#fff" stroke="#2a2a2a" stroke-width="1.4"/>
<text transform="translate(1062.08,232.71) scale(0.9240,1)" font-size="9.77" stroke="#333" stroke-width="0.12" fill="#333">B1</text>
<rect x="1049.2" y="238.9" width="37.4" height="18.30" fill="#fff" stroke="#2a2a2a" stroke-width="1.4"/>
<text transform="translate(1059.05,251.44) scale(0.9504,1)" font-size="9.91" stroke="#333" stroke-width="0.12" fill="#333">B12</text>
<rect x="1049.2" y="313" width="37.4" height="18.80" fill="#fff" stroke="#2a2a2a" stroke-width="1.4"/>
<text transform="translate(1062.53,326.06) scale(0.8352,1)" font-size="10.11" stroke="#333" stroke-width="0.12" fill="#333">A5</text>
<rect x="1049.2" y="350.3" width="37.4" height="18.10" fill="#fff" stroke="#2a2a2a" stroke-width="1.4"/>
<text transform="translate(1061.67,362.44) scale(0.9359,1)" font-size="9.83" stroke="#333" stroke-width="0.12" fill="#333">B5</text>
<rect x="1049.2" y="424.9" width="37.4" height="18.70" fill="#fff" stroke="#2a2a2a" stroke-width="1.4"/>
<text transform="translate(1062.53,438.04) scale(0.8253,1)" font-size="10.28" stroke="#333" stroke-width="0.12" fill="#333">A7</text>
<rect x="1049.2" y="443.6" width="37.4" height="17.90" fill="#fff" stroke="#2a2a2a" stroke-width="1.4"/>
<text transform="translate(1062.05,456.08) scale(0.9394,1)" font-size="9.71" stroke="#333" stroke-width="0.12" fill="#333">B7</text>
<rect x="1049.2" y="479.8" width="37.4" height="18.70" fill="#fff" stroke="#2a2a2a" stroke-width="1.4"/>
<text transform="translate(1062.54,492.42) scale(0.8289,1)" font-size="10.25" stroke="#333" stroke-width="0.12" fill="#333">A6</text>
<rect x="1049.2" y="498.5" width="37.4" height="18.80" fill="#fff" stroke="#2a2a2a" stroke-width="1.4"/>
<text transform="translate(1062.08,511.2) scale(0.8661,1)" font-size="10.30" stroke="#333" stroke-width="0.12" fill="#333">B6</text>
<rect x="1049.2" y="535.4" width="37.4" height="19.00" fill="#fff" stroke="#2a2a2a" stroke-width="1.4"/>
<text transform="translate(1062.53,548.43) scale(0.8591,1)" font-size="9.92" stroke="#333" stroke-width="0.12" fill="#333">A1</text>
<rect x="1049.2" y="554.4" width="37.4" height="18.70" fill="#fff" stroke="#2a2a2a" stroke-width="1.4"/>
<text transform="translate(1059.73,567.26) scale(0.9110,1)" font-size="9.86" stroke="#333" stroke-width="0.12" fill="#333">A12</text>
<rect x="1049.2" y="573.1" width="37.4" height="18.80" fill="#fff" stroke="#2a2a2a" stroke-width="1.4"/>
<text transform="translate(1062.08,585.64) scale(0.9240,1)" font-size="9.77" stroke="#333" stroke-width="0.12" fill="#333">B1</text>
<rect x="1049.2" y="591.9" width="37.4" height="18.50" fill="#fff" stroke="#2a2a2a" stroke-width="1.4"/>
<text transform="translate(1059.05,604.22) scale(0.9504,1)" font-size="9.91" stroke="#333" stroke-width="0.12" fill="#333">B12</text>
<circle cx="287.6" cy="44" r="2.45" fill="#111"/>
<circle cx="529.2" cy="44" r="2.45" fill="#111"/>
<circle cx="807.5" cy="44" r="2.45" fill="#111"/>
<circle cx="882.2" cy="44" r="2.45" fill="#111"/>
<circle cx="696.5" cy="136.8" r="2.45" fill="#111"/>
<circle cx="956.3" cy="192.2" r="2.45" fill="#111"/>
<circle cx="993.5" cy="210.9" r="2.45" fill="#111"/>
<circle cx="993.5" cy="229.4" r="2.45" fill="#111"/>
<circle cx="993.5" cy="192.2" r="2.45" fill="#111"/>
<circle cx="83.3" cy="136.7" r="2.45" fill="#111"/>
<circle cx="194.8" cy="136.7" r="2.45" fill="#111"/>
<circle cx="241.2" cy="136.7" r="2.45" fill="#111"/>
<circle cx="287.3" cy="248.3" r="2.45" fill="#111"/>
<circle cx="241.2" cy="266.7" r="2.45" fill="#111"/>
<circle cx="194.8" cy="322.3" r="2.45" fill="#111"/>
<circle cx="417.8" cy="136.8" r="2.45" fill="#111"/>
<circle cx="529" cy="248.1" r="2.45" fill="#111"/>
<circle cx="528.5" cy="322.1" r="2.45" fill="#111"/>
<circle cx="577.2" cy="359.3" r="2.45" fill="#111"/>
<circle cx="696.4" cy="600.5" r="2.45" fill="#111"/>
<circle cx="510.6" cy="433.5" r="2.45" fill="#111"/>
<circle cx="510.6" cy="489.2" r="2.45" fill="#111"/>
<circle cx="882.2" cy="433.4" r="2.45" fill="#111"/>
<circle cx="882.2" cy="489.2" r="2.45" fill="#111"/>
<circle cx="993.9" cy="433.4" r="2.45" fill="#111"/>
<circle cx="993.9" cy="489.2" r="2.45" fill="#111"/>
<circle cx="993.3" cy="563.6" r="2.45" fill="#111"/>
<circle cx="993.3" cy="582.2" r="2.45" fill="#111"/>
<circle cx="993.3" cy="600.7" r="2.45" fill="#111"/>
<circle cx="1054.1" cy="637.6" r="2.45" fill="#111"/>
<circle cx="1063.1" cy="637.6" r="2.45" fill="#111"/>
<circle cx="1072.4" cy="637.6" r="2.45" fill="#111"/>
<circle cx="993.3" cy="637.6" r="2.45" fill="#111"/>
</svg></body></html>
